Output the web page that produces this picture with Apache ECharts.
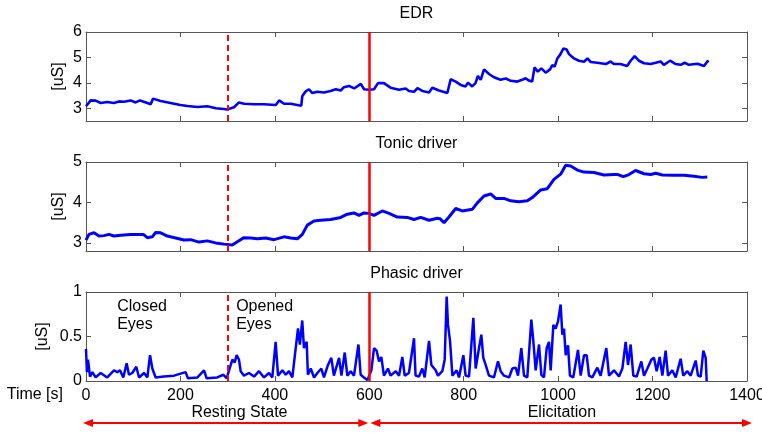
<!DOCTYPE html>
<html>
<head>
<meta charset="utf-8">
<script src="https://cdn.jsdelivr.net/npm/echarts@6/dist/echarts.min.js"></script>
<style>
html, body { margin: 0; padding: 0; background: #fff; }
#chart { width: 762px; height: 433px; }
</style>
</head>
<body>
<div id="chart"></div>
<script>
// time axis [s]
const TIME_MIN = 0, TIME_MAX = 1400, TIME_STEP = 200;
const EYES_SWITCH = 300;     // closed -> opened eyes
const TASK_START = 600;      // resting state -> elicitation

// y ticks per panel
const EDR_TICKS = [3, 4, 5, 6];
const TONIC_TICKS = [3, 4, 5];
const PHASIC_TICKS = [0, 0.5, 1];

const TITLES = ['EDR', 'Tonic driver', 'Phasic driver'];

// [time s, uS]
const EDR = [
  [0,3.08],[10,3.31],[20.5,3.30],[31,3.21],[45,3.25],[59,3.21],[70,3.27],[80.5,3.26],[94.6,3.31],[105,3.23],
  [114.4,3.31],[130,3.21],[137,3.16],[142,3.38],[158,3.29],[179,3.21],[200,3.13],[215,3.09],[236,3.05],[257,3.08],
  [275,3.00],[292,2.97],[299,2.95],[313.5,3.04],[324,3.23],[335,3.18],[356,3.16],[377,3.16],[402,3.13],[409,3.31],
  [419.4,3.18],[433.5,3.18],[447.6,3.13],[456,3.10],[458,3.47],[465,3.66],[472.3,3.75],[479,3.60],[490,3.65],[504,3.62],
  [518,3.68],[529,3.75],[539.4,3.70],[546.4,3.83],[557,3.88],[568,3.78],[582,3.96],[589,3.75],[599.4,3.73],[610,3.75],
  [618.5,3.99],[631,3.99],[645,3.81],[663,3.73],[677,3.78],[684,3.68],[695,3.65],[702,3.79],[712.4,3.68],[726.5,3.62],
  [733.5,3.81],[747.7,3.70],[765.3,3.60],[769,3.60],[772.4,4.14],[783,4.05],[793.5,3.92],[804,3.86],[809,4.01],[818,3.86],
  [825,3.99],[830,4.27],[836,4.12],[843,4.53],[853.5,4.35],[864,4.22],[878,4.12],[889,4.17],[899.5,4.08],[913.6,4.05],
  [924,4.12],[931,4.18],[938,4.09],[945,4.05],[950,4.61],[957,4.44],[964.4,4.57],[973.6,4.40],[982.8,4.53],[987.7,4.70],
  [992.6,4.64],[998.3,4.96],[1005,5.13],[1011,5.35],[1018,5.31],[1023,5.13],[1033.6,4.96],[1044,4.87],[1055,4.83],[1062,4.96],
  [1069,4.82],[1083,4.79],[1101,4.74],[1111,4.84],[1118,4.74],[1132,4.74],[1146,4.66],[1153.6,4.87],[1162,5.05],[1171,4.87],
  [1182,4.77],[1196,4.74],[1206.6,4.79],[1217,4.84],[1224,4.71],[1237,4.87],[1249,4.74],[1259.5,4.71],[1268,4.79],[1277,4.71],
  [1295,4.75],[1309,4.66],[1316,4.84],[1319,4.87]
];

const TONIC = [
  [0,3.07],[6.3,3.21],[16.9,3.25],[27.5,3.17],[38.1,3.18],[48.7,3.21],[59.3,3.17],[73.4,3.19],[94.6,3.21],[108.7,3.21],
  [121.4,3.21],[129.9,3.13],[140.5,3.15],[147.5,3.26],[158.1,3.25],[172.3,3.17],[189.9,3.12],[207.6,3.07],[221.7,3.08],[239.3,3.02],
  [257,3.05],[274.6,3.00],[292.3,2.97],[309.9,2.95],[320.5,3.03],[334.6,3.13],[348.8,3.12],[362.9,3.10],[380.5,3.12],[398.2,3.08],
  [419.4,3.15],[433.5,3.12],[447.6,3.10],[458.2,3.21],[468.8,3.44],[482.9,3.54],[497,3.56],[518.2,3.58],[539.4,3.63],[553.5,3.71],
  [567.6,3.74],[578.2,3.68],[588.8,3.74],[599.4,3.73],[610,3.68],[627.6,3.79],[641.8,3.73],[659.4,3.64],[680.6,3.63],[694.7,3.58],
  [708.8,3.63],[726.5,3.56],[744.1,3.61],[749.8,3.60],[758.2,3.50],[768.8,3.64],[783,3.85],[797,3.79],[818.2,3.83],[828.8,3.99],
  [843,4.16],[857,4.21],[867.7,4.10],[885.3,4.10],[899.4,4.04],[917,4.02],[934.7,4.04],[945.3,4.12],[963,4.31],[977,4.34],
  [991.2,4.57],[1005.3,4.70],[1016,4.92],[1026.5,4.90],[1040.6,4.80],[1054.8,4.75],[1076,4.74],[1097,4.68],[1118.3,4.69],[1126.8,4.69],
  [1138,4.64],[1150,4.69],[1164,4.79],[1182,4.71],[1196,4.69],[1206.6,4.72],[1220.7,4.68],[1245,4.67],[1266.6,4.67],[1287.7,4.65],
  [1305,4.62],[1316,4.63]
];

const PHASIC = [
  [0,0.36],[2,0.10],[4.2,0.24],[8.5,0.05],[13.4,0.10],[20.5,0.04],[31,0.09],[45,0.04],[59.3,0.12],[66.4,0.10],
  [72,0.12],[79,0.04],[86.1,0.20],[91,0.07],[98,0.09],[106.6,0.16],[112.3,0.04],[123,0.09],[130,0.04],[135.6,0.29],
  [140.5,0.14],[147.5,0.04],[165,0.05],[186.4,0.06],[211,0.10],[216,0.03],[236,0.04],[250,0.12],[255.5,0.03],[278,0.04],
  [291,0.07],[298,0.03],[303,0.12],[310,0.24],[315,0.21],[319,0.29],[324,0.24],[327.6,0.11],[334.6,0.06],[345,0.09],
  [356,0.05],[366.4,0.11],[377,0.04],[387.6,0.09],[394.6,0.04],[401.7,0.44],[406.7,0.06],[416,0.12],[423,0.07],[430,0.11],
  [437,0.04],[449,0.59],[453,0.41],[458,0.68],[461.7,0.37],[467.4,0.44],[470,0.07],[476,0.14],[483,0.04],[490,0.09],
  [498.4,0.14],[504,0.04],[512.5,0.18],[519.6,0.26],[525,0.06],[536,0.26],[541,0.06],[548,0.32],[553.5,0.06],[560.6,0.11],
  [567.6,0.06],[577,0.41],[581.7,0.07],[588.8,0.04],[596,0.01],[604.4,0.12],[610,0.37],[615.6,0.34],[620.6,0.22],[625.5,0.27],
  [631,0.06],[639.6,0.14],[645,0.06],[656,0.11],[663,0.06],[670,0.27],[675,0.06],[684,0.09],[694.7,0.48],[698,0.06],
  [705.3,0.05],[712.3,0.14],[717.3,0.04],[726.5,0.45],[731.4,0.18],[735.6,0.20],[740.6,0.12],[745.5,0.06],[754.7,0.11],[759.7,0.24],
  [763.9,0.95],[766.7,0.63],[771,0.45],[776,0.06],[785,0.12],[790,0.04],[799.2,0.29],[804,0.06],[811.2,0.05],[820.4,0.71],
  [825.3,0.14],[832.4,0.37],[837.3,0.52],[841.5,0.26],[846.5,0.18],[853.5,0.06],[864,0.04],[872.6,0.22],[878.3,0.11],[885.3,0.06],
  [896,0.04],[903,0.14],[910,0.15],[915,0.06],[922,0.37],[927.7,0.06],[934.7,0.04],[943.2,0.69],[947.4,0.45],[952.4,0.12],
  [959.5,0.41],[964.4,0.07],[970,0.04],[975.7,0.37],[980.6,0.44],[984.2,0.12],[989.8,0.63],[994.8,0.59],[999.7,0.67],[1005.3,0.86],
  [1008.9,0.52],[1012.4,0.59],[1016,0.29],[1020.9,0.40],[1025,0.06],[1032,0.04],[1042,0.35],[1047.7,0.06],[1054.8,0.29],[1060.4,0.29],
  [1065.4,0.06],[1072.4,0.04],[1083,0.15],[1090,0.06],[1102,0.37],[1107.7,0.06],[1118.3,0.12],[1128.9,0.05],[1136,0.14],[1143,0.44],
  [1148,0.18],[1153.6,0.41],[1159.2,0.06],[1166.3,0.05],[1176.2,0.22],[1181.8,0.06],[1189,0.14],[1197.4,0.24],[1203,0.26],[1208.7,0.11],
  [1215,0.27],[1220.7,0.06],[1227.7,0.34],[1232.7,0.06],[1241.8,0.12],[1249,0.04],[1259.5,0.25],[1265,0.06],[1273.6,0.11],[1280.7,0.06],
  [1291.3,0.23],[1296.2,0.06],[1301.9,0.05],[1307.5,0.34],[1312.5,0.26],[1314.6,0]
];

const FONT = "'Liberation Sans', Arial, Helvetica, sans-serif";
const AXIS_COLOR = '#555';
const BLUE = '#0000ff';
const RED = '#ff0000';

const chart = echarts.init(document.getElementById('chart'), null, { renderer: 'canvas' });

const GRID_TOPS = [32, 162, 292];
// outerBoundsMode none: keep the three boxes identical, labels may hang out
const grids = GRID_TOPS.map(t => ({ left: 86, width: 661, top: t, height: 89, outerBoundsMode: 'none', containLabel: false }));

function xAxis (g, top) {
  return {
    type: 'value', gridIndex: g, min: TIME_MIN, max: TIME_MAX, interval: TIME_STEP,
    position: top ? 'top' : 'bottom',
    axisLine: { show: true, onZero: false, lineStyle: { color: AXIS_COLOR, width: 1 } },
    axisTick: { show: true, inside: true, length: 5, lineStyle: { color: AXIS_COLOR } },
    axisLabel: { show: !top && g === 2, margin: 7, color: '#000', fontSize: 16, fontFamily: FONT, formatter: v => String(v) },
    splitLine: { show: false }
  }
}

function yAxis (g, min, max, ticks, right, gap) {
  return {
    type: 'value', gridIndex: g, min: min, max: max, position: right ? 'right' : 'left',
    axisLine: { show: true, onZero: false, lineStyle: { color: AXIS_COLOR, width: 1 } },
    axisTick: { show: true, inside: true, length: 5, customValues: ticks, lineStyle: { color: AXIS_COLOR } },
    axisLabel: { show: !right, customValues: ticks, margin: 4, color: '#000', fontSize: 16, fontFamily: FONT },
    splitLine: { show: false },
    name: right ? '' : '[uS]', nameLocation: 'middle', nameGap: gap || 19, nameMoveOverlap: false,
    nameTextStyle: { color: '#000', fontSize: 16, fontFamily: FONT }
  }
}

const markLine = {
  silent: true, symbol: ['none', 'none'], animation: false,
  label: { show: false },
  lineStyle: { color: RED, width: 2, type: 'solid' },
  data: [
    { xAxis: EYES_SWITCH, lineStyle: { type: [6, 4], width: 2 } },
    { xAxis: TASK_START, lineStyle: { type: 'solid', width: 2.5 } }
  ]
};

function lineSeries (g, data, width) {
  return {
    type: 'line', xAxisIndex: g, yAxisIndex: g, data: data,
    showSymbol: false, symbol: 'none', animation: false,
    lineStyle: { color: BLUE, width: width },
    markLine: markLine
  }
}

chart.setOption({
  backgroundColor: '#fff',
  grid: grids,
  xAxis: [xAxis(0), xAxis(1), xAxis(2), xAxis(0, true), xAxis(1, true), xAxis(2, true)],
  yAxis: [
    yAxis(0, 2.5, 6, EDR_TICKS), yAxis(1, 2.8, 5, TONIC_TICKS), yAxis(2, 0, 1, PHASIC_TICKS, false, 35),
    yAxis(0, 2.5, 6, EDR_TICKS, true), yAxis(1, 2.8, 5, TONIC_TICKS, true), yAxis(2, 0, 1, PHASIC_TICKS, true)
  ],
  series: [
    lineSeries(0, EDR, 2.6),
    lineSeries(1, TONIC, 3),
    lineSeries(2, PHASIC, 2.5)
  ]
});

/* Annotations placed from the axes' own scales */
const px = (g, x, y) => chart.convertToPixel({ gridIndex: g }, [x, y]);
const txt = (x, y, s, align) => ({
  type: 'text', x: x, y: y, silent: true,
  style: { text: s, fill: '#000', font: '16px ' + FONT, textAlign: align || 'left', textVerticalAlign: 'middle' }
});
function arrow (x1, x2, y) {
  const h = 10, w = 4;
  return [
    { type: 'line', shape: { x1: x1 + 4, y1: y, x2: x2 - 4, y2: y }, style: { stroke: RED, lineWidth: 2 } },
    { type: 'polygon', shape: { points: [[x1, y], [x1 + h, y - w], [x1 + h, y + w]] }, style: { fill: RED } },
    { type: 'polygon', shape: { points: [[x2, y], [x2 - h, y - w], [x2 - h, y + w]] }, style: { fill: RED } }
  ]
}

const graphics = [];
TITLES.forEach((t, g) => {
  const p = px(g, (TIME_MIN + TIME_MAX) / 2, 0);
  graphics.push(txt(p[0], GRID_TOPS[g] - 18, t, 'center'));
});
const base = px(2, 0, 0);
graphics.push(txt(base[0] - 23, base[1] + 14, 'Time [s]', 'right'));
graphics.push(txt(px(2, 325, 0)[0], base[1] + 32, 'Resting State', 'center'));
graphics.push(txt(px(2, 1008, 0)[0], base[1] + 32, 'Elicitation', 'center'));
const closed = px(2, 66, 0.84), closed2 = px(2, 66, 0.63);
graphics.push(txt(closed[0], closed[1], 'Closed'), txt(closed2[0], closed2[1], 'Eyes'));
const opened = px(2, 318, 0.84), opened2 = px(2, 318, 0.63);
graphics.push(txt(opened[0], opened[1], 'Opened'), txt(opened2[0], opened2[1], 'Eyes'));
const ay = base[1] + 42;
graphics.push(...arrow(px(2, 0, 0)[0] - 3, px(2, TASK_START, 0)[0] - 1, ay));
graphics.push(...arrow(px(2, TASK_START, 0)[0] + 1, px(2, TIME_MAX, 0)[0] + 5, ay));

chart.setOption({ graphic: graphics });
</script>
</body>
</html>
